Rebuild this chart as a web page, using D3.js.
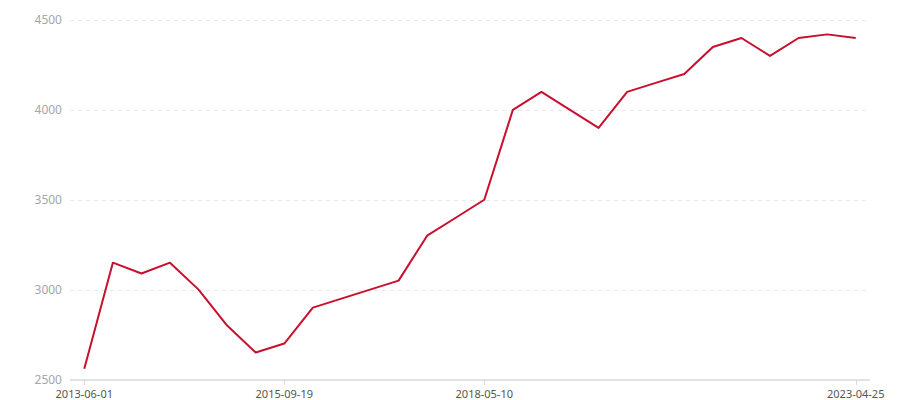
<!DOCTYPE html>
<html>
<head>
<meta charset="utf-8">
<script src="https://cdn.jsdelivr.net/npm/d3@7"></script>
<style>
  body { margin: 0; background: #fff; }
  svg { display: block; font-family: "Noto Sans", "Open Sans", sans-serif; }
</style>
</head>
<body>
<svg id="chart" width="900" height="400"></svg>
<script>
const dates = [
  "2013-06-01", "2013-09-28", "2014-01-25", "2014-05-24", "2014-09-20", "2015-01-17", "2015-05-23",
  "2015-09-19", "2016-02-06", "2016-06-25", "2016-11-12", "2017-03-31", "2017-08-18", "2017-12-22",
  "2018-05-10", "2018-09-27", "2019-02-14", "2019-07-04", "2019-11-21", "2020-04-09", "2020-08-27",
  "2021-01-14", "2021-06-03", "2021-10-21", "2022-03-10", "2022-07-28", "2022-12-15", "2023-04-25"
];
const values = [
  2560, 3150, 3090, 3150, 3000, 2800, 2650,
  2700, 2900, 2950, 3000, 3050, 3300, 3400,
  3500, 4000, 4100, 4000, 3900, 4100, 4150,
  4200, 4350, 4400, 4300, 4400, 4420, 4400
];
const xTickLabels = ["2013-06-01", "2015-09-19", "2018-05-10", "2023-04-25"];
const yTicks = [2500, 3000, 3500, 4000, 4500];

const svg = d3.select("#chart");
const gLeft = 70, gRight = 870, gTop = 20, gBottom = 379.5;

const x = d3.scaleBand().domain(dates).range([gLeft, gRight]);
const cx = d => x(d) + x.bandwidth() / 2;
const y = d3.scaleLinear().domain([2500, 4500]).range([gBottom, gTop]);

// grid lines
svg.append("g").selectAll("line")
  .data(yTicks.filter(t => t !== 2500))
  .join("line")
  .attr("x1", gLeft).attr("x2", gRight)
  .attr("y1", d => Math.round(y(d)) + 0.5).attr("y2", d => Math.round(y(d)) + 0.5)
  .attr("stroke", "#e9e9e9").attr("stroke-width", 1)
  .attr("stroke-dasharray", "4,4");

// y labels
svg.append("g").selectAll("text")
  .data(yTicks)
  .join("text")
  .attr("x", 62).attr("y", d => y(d))
  .attr("dy", "0.35em")
  .attr("text-anchor", "end")
  .attr("font-size", 12)
  .attr("fill", "#a6a6a6")
  .text(d => d);

// x axis line
svg.append("line")
  .attr("x1", gLeft).attr("x2", gRight)
  .attr("y1", 380).attr("y2", 380)
  .attr("stroke", "#d9d9d9").attr("stroke-width", 1.5);

// x ticks
svg.append("g").selectAll("line")
  .data(xTickLabels)
  .join("line")
  .attr("x1", d => Math.round(cx(d)) + 0.5).attr("x2", d => Math.round(cx(d)) + 0.5)
  .attr("y1", 380).attr("y2", 385)
  .attr("stroke", "#d9d9d9").attr("stroke-width", 1);

// x labels
svg.append("g").selectAll("text")
  .data(xTickLabels)
  .join("text")
  .attr("x", d => cx(d)).attr("y", 398)
  .attr("text-anchor", "middle")
  .attr("font-size", 11)
  .attr("fill", "#555")
  .text(d => d);

// line
const line = d3.line()
  .x((d, i) => cx(dates[i]))
  .y(d => y(d));

svg.append("path")
  .datum(values)
  .attr("d", line)
  .attr("fill", "none")
  .attr("stroke", "#c8102e")
  .attr("stroke-width", 2)
  .attr("stroke-linejoin", "round");
</script>
</body>
</html>
